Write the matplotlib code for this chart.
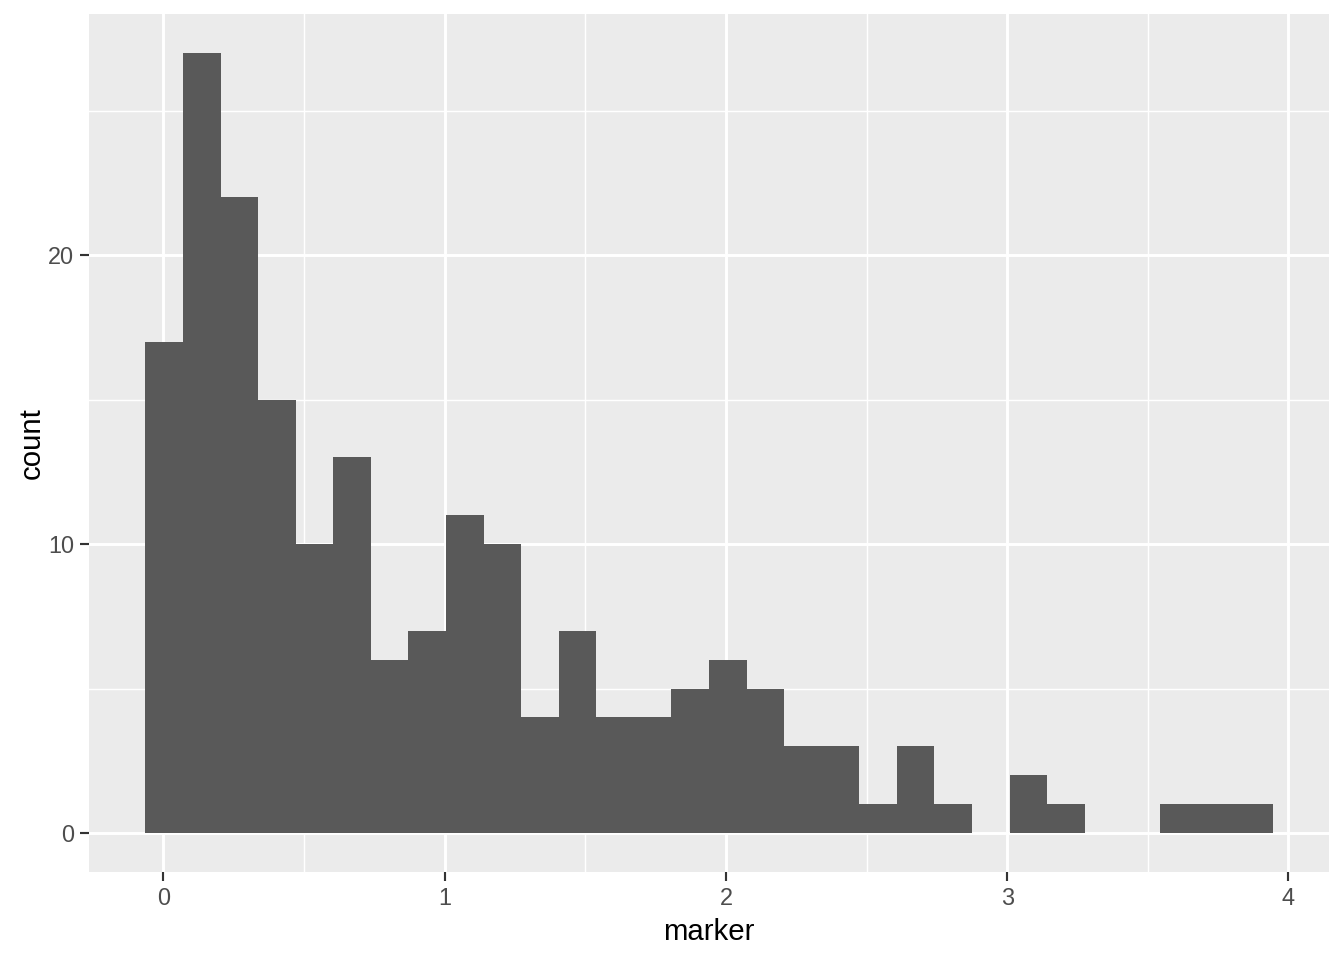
import numpy as np
import matplotlib.pyplot as plt
from matplotlib.ticker import MultipleLocator

# histogram counts (30 bins, ggplot default)
counts = [17, 27, 22, 15, 10, 13, 6, 7, 11, 10,
          4, 7, 4, 4, 5, 6, 5, 3, 3, 1,
          3, 1, 0, 2, 1, 0, 0, 1, 1, 1]
bin_start = -0.064
bin_width = 0.1336
x_ticks = [0, 1, 2, 3, 4]
y_ticks = [0, 10, 20]

plt.rcParams['font.family'] = ['Liberation Sans', 'DejaVu Sans']

fig = plt.figure(figsize=(7, 5), dpi=192)
ax = fig.add_axes([89 / 1344, 88 / 960, 1240 / 1344, 858 / 960])
ax.set_facecolor('#EBEBEB')

lefts = bin_start + bin_width * np.arange(len(counts))
ax.bar(lefts, counts, width=bin_width, align='edge', color='#595959', linewidth=0, zorder=3)

x_lo = bin_start
x_hi = bin_start + bin_width * len(counts)
pad = (x_hi - x_lo) * 0.05
ax.set_xlim(x_lo - pad, x_hi + pad)
ax.set_ylim(-max(counts) * 0.05, max(counts) * 1.05)

ax.set_xticks(x_ticks)
ax.set_yticks(y_ticks)
ax.xaxis.set_minor_locator(MultipleLocator(0.5))
ax.yaxis.set_minor_locator(MultipleLocator(5))
ax.grid(which='major', color='white', linewidth=1.1, zorder=0)
ax.grid(which='minor', color='white', linewidth=0.55, zorder=0)
ax.set_axisbelow(True)

for s in ax.spines.values():
    s.set_visible(False)
ax.tick_params(which='major', length=3.5, color='#333333', width=0.8,
               labelsize=8.8, labelcolor='#4D4D4D', pad=2)
ax.tick_params(which='minor', length=0)

ax.set_xlabel('marker', fontsize=11, color='black', labelpad=3)
ax.set_ylabel('count', fontsize=11, color='black', labelpad=1)

fig.savefig('out.png', dpi=192, facecolor='white')
